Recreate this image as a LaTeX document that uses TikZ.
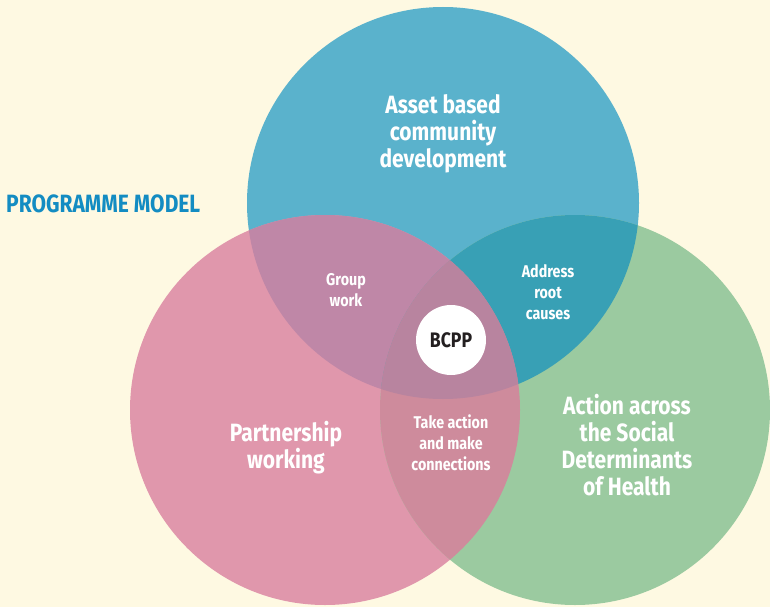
\documentclass[tikz,border=0pt]{standalone}
\usepackage{fontspec}
\setmainfont{Fira Sans}[FakeStretch=0.84]
\definecolor{bg}{HTML}{FEF9E2}
\definecolor{cblue}{HTML}{5AB2CC}
\definecolor{cpink}{HTML}{E097AC}
\definecolor{cgreen}{HTML}{9BCAA0}
\definecolor{cbp}{HTML}{BF87A7}
\definecolor{cbg}{HTML}{38A0B5}
\definecolor{cpg}{HTML}{CE8B9C}
\definecolor{cbpg}{HTML}{B8849F}
\definecolor{ctitle}{HTML}{138CC2}
\definecolor{cdark}{HTML}{231F20}
\begin{document}
\begin{tikzpicture}[x=1pt,y=-1pt,
  bigtxt/.style={text=white,font=\bfseries\fontsize{25}{27}\selectfont,align=center},
  smalltxt/.style={text=white,font=\bfseries\fontsize{17}{21}\selectfont,align=center}]
\fill[bg] (0,0) rectangle (770,607);
\useasboundingbox (0,0) rectangle (770,607);
\def\cb{(443,203) circle[radius=196]}
\def\cp{(325,410) circle[radius=195]}
\def\cg{(575,410) circle[radius=195]}
\fill[cblue] \cb;
\fill[cpink] \cp;
\fill[cgreen] \cg;
\begin{scope}\clip \cb; \fill[cbp] \cp; \end{scope}
\begin{scope}\clip \cb; \fill[cbg] \cg; \end{scope}
\begin{scope}\clip \cp; \fill[cpg] \cg; \end{scope}
\begin{scope}\clip \cb; \clip \cp; \fill[cbpg] \cg; \end{scope}
\node[circle,fill=white,minimum size=70pt,inner sep=0pt,text=cdark,font=\bfseries\fontsize{21}{24}\selectfont] (bcpp) at (451,340) {BCPP};
\node[text=ctitle,font=\bfseries\fontsize{25}{27}\selectfont,anchor=west,inner sep=0pt] (title) at (6,204) {PROGRAMME MODEL};
\node[bigtxt] (asset) at (443,134) {Asset based\\community\\development};
\node[bigtxt] (partner) at (286,448) {Partnership\\working};
\node[bigtxt] (action) at (627,445) {Action across\\the Social\\Determinants\\of Health};
\node[smalltxt] (group) at (346,290) {Group\\work};
\node[smalltxt] (address) at (548,292) {Address\\root\\causes};
\node[smalltxt] (take) at (451,443) {Take action\\and make\\connections};
\end{tikzpicture}
\end{document}
